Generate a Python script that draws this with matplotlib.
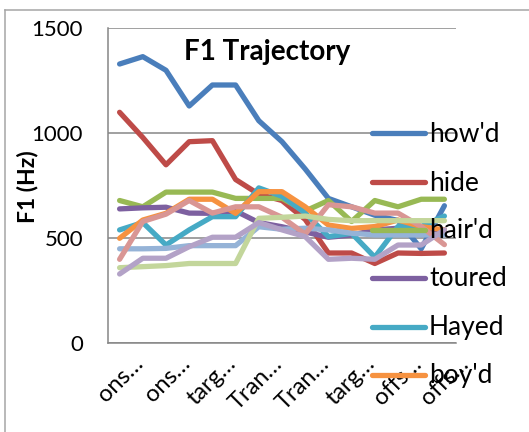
import matplotlib
matplotlib.use("Agg")
import matplotlib.pyplot as plt
from matplotlib.lines import Line2D
from matplotlib.transforms import ScaledTranslation

plt.rcParams['font.family'] = ['Lato', 'DejaVu Sans']

W, H = 529, 432

categories = ["ons…", "", "ons…", "", "targ…", "", "Tran…", "", "Tran…", "",
              "targ…", "", "offs…", "", "offs…"]

series_names = ["how'd", "hide", "hair'd", "toured", "Hayed", "boy'd",
                "s7", "s8", "s9", "s10"]

howd   = [1330, 1365, 1300, 1130, 1230, 1230, 1060, 960, 830, 690, 650, 610, 585, 450, 655]
hide   = [1100, 980, 850, 960, 965, 780, 710, 680, 590, 430, 430, 380, 430, 428, 430]
haird  = [680, 650, 720, 720, 720, 690, 690, 690, 630, 680, 580, 680, 650, 686, 686]
toured = [640, 645, 648, 620, 619, 630, 575, 555, 530, 505, 515, 540, 548, 540, 540]
hayed  = [540, 575, 468, 540, 603, 603, 740, 700, 620, 508, 524, 410, 556, 556, 606]
boyd   = [500, 587, 619, 686, 686, 619, 722, 722, 650, 563, 547, 556, 587, 556, 540]
s7     = [450, 450, 452, 465, 465, 465, 555, 543, 548, 540, 524, 516, 516, 516, 516]
s8     = [400, 580, 615, 680, 620, 650, 650, 600, 520, 660, 650, 620, 620, 556, 470]
s9     = [360, 365, 370, 380, 380, 380, 595, 600, 606, 590, 584, 584, 584, 584, 584]
s10    = [330, 405, 405, 460, 505, 505, 575, 540, 508, 400, 405, 400, 468, 468, 540]

data = [howd, hide, haird, toured, hayed, boyd, s7, s8, s9, s10]
colors = ["#4A7EBB", "#BE4B48", "#98B954", "#7D60A0", "#46AAC5", "#F69240",
          "#95B3D7", "#D99694", "#C3D69B", "#B3A2C7"]
legend_count = 6

yticks = [0, 500, 1000, 1500]

fig = plt.figure(figsize=(W / 100, H / 100), dpi=100)

def fx(x):
    return x / W

def fy(y):
    return 1 - y / H

# outer chart border (top and left visible)
fig.add_artist(Line2D([fx(5), fx(5)], [fy(10), fy(432)], color="#A6A6A6", lw=1.1))
fig.add_artist(Line2D([fx(5), fx(529)], [fy(10), fy(10)], color="#A6A6A6", lw=1.1))

ax = fig.add_axes([fx(108), fy(343.3), fx(456) - fx(108), fy(28.3) - fy(343.3)])

x = list(range(len(categories)))
for vals, c in zip(data, colors):
    ax.plot(x, vals, color=c, lw=3.8, solid_capstyle='round', solid_joinstyle='round')

ax.set_xlim(-0.5, len(categories) - 0.5)
ax.set_ylim(0, 1500)
ax.set_yticks(yticks)
ax.set_yticklabels([str(v) for v in yticks])
ax.yaxis.grid(True, color="#868686", lw=1.1)
ax.set_axisbelow(True)
for s in ["top", "right"]:
    ax.spines[s].set_visible(False)
for s in ["left", "bottom"]:
    ax.spines[s].set_color("#868686")
    ax.spines[s].set_linewidth(1.1)
ax.tick_params(axis='y', length=0, pad=18, labelsize=16)
ax.tick_params(axis='x', length=0, labelsize=17, pad=7)

ax.set_xticks(x)
ax.set_xticklabels(categories, rotation=45, ha='right', rotation_mode='anchor')
offset = ScaledTranslation(13 / 100, 0, fig.dpi_scale_trans)
for lbl in ax.get_xticklabels():
    lbl.set_transform(lbl.get_transform() + offset)

fig.text(fx(28), fy(187), "F1 (Hz)", rotation=90, ha='center', va='center',
         fontsize=16.5, fontweight='bold')
fig.text(fx(266.7), fy(52), "F1 Trajectory", ha='center', va='center',
         fontsize=20, fontweight='bold')

# legend (first six series)
leg_y = [133, 182, 230, 278, 327, 375]
for name, c, yy in zip(series_names[:legend_count], colors[:legend_count], leg_y):
    fig.add_artist(Line2D([fx(372), fx(425)], [fy(yy), fy(yy)], color=c, lw=3.8,
                          solid_capstyle='round'))
    fig.text(fx(429), fy(yy + 1), name, ha='left', va='center', fontsize=19)

fig.savefig("out.png", dpi=100)
